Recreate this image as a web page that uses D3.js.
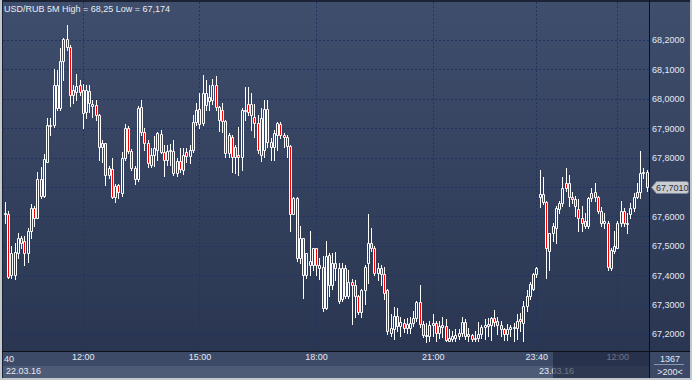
<!DOCTYPE html>
<html>
<head>
<meta charset="utf-8">
<script src="https://cdn.jsdelivr.net/npm/d3@7.9.0/dist/d3.min.js"></script>
<style>
  html, body { margin: 0; padding: 0; background: #3a4765; }
  svg { display: block; font-family: "Liberation Sans", Arial, sans-serif; }
</style>
</head>
<body>
<div id="chart"></div>
<script>
// USD/RUB 5 minute candles, 22.03.16 10:00 -> 23.03.16 12:45
const open = [67.610,67.607,67.399,67.399,67.477,67.525,67.515,67.477,67.549,67.627,
  67.596,67.726,67.668,67.784,67.907,67.910,68.047,67.968,68.128,68.203,
  68.176,68.012,68.023,68.047,68.030,67.954,68.026,67.975,67.978,67.944,
  67.835,67.849,67.764,67.760,67.665,67.706,67.678,67.798,67.900,67.821,
  67.764,67.726,67.972,67.886,67.849,67.774,67.808,67.825,67.879,67.818,
  67.791,67.821,67.821,67.746,67.787,67.757,67.818,67.804,67.825,67.920,
  67.965,67.917,67.978,68.006,67.995,68.047,67.972,67.961,67.924,67.815,
  67.869,67.835,67.808,67.801,67.958,67.982,67.982,67.937,67.917,67.808,
  67.825,67.965,67.852,67.835,67.876,67.914,67.876,67.869,67.839,67.607,
  67.661,67.457,67.525,67.399,67.433,67.433,67.491,67.426,67.429,67.290,
  67.470,67.365,67.443,67.423,67.320,67.423,67.330,67.378,67.365,67.330,
  67.276,67.351,67.443,67.511,67.494,67.409,67.423,67.405,67.348,67.204,
  67.218,67.262,67.228,67.238,67.221,67.221,67.238,67.255,67.310,67.235,
  67.194,67.194,67.232,67.238,67.204,67.225,67.228,67.177,67.184,67.187,
  67.194,67.204,67.242,67.194,67.197,67.184,67.187,67.201,67.225,67.228,
  67.232,67.255,67.245,67.232,67.218,67.201,67.218,67.221,67.221,67.252,
  67.238,67.296,67.330,67.354,67.405,67.665,67.675,67.648,67.484,67.542,
  67.562,67.624,67.644,67.712,67.712,67.665,67.658,67.624,67.596,67.586,
  67.569,67.661,67.682,67.665,67.620,67.579,67.579,67.426,67.484,67.494,
  67.579,67.620,67.576,67.607,67.627,67.665,67.682,67.746,67.750];
const high = [67.648,67.620,67.498,67.511,67.542,67.532,67.535,67.559,67.641,67.634,
  67.750,67.767,67.811,67.934,67.934,68.101,68.098,68.173,68.207,68.250,
  68.183,68.047,68.084,68.064,68.050,68.047,68.047,67.995,67.995,67.948,
  67.859,67.849,67.770,67.798,67.709,67.709,67.818,67.914,67.907,67.828,
  67.770,67.975,67.995,67.900,67.859,67.832,67.873,67.886,67.893,67.842,
  67.842,67.845,67.859,67.798,67.832,67.832,67.832,67.842,67.944,67.985,
  68.019,68.081,68.064,68.047,68.067,68.077,67.975,67.985,67.927,67.883,
  67.876,67.842,67.903,67.968,68.040,68.040,68.019,67.982,67.944,67.968,
  67.995,67.995,67.866,67.893,67.920,67.920,67.883,67.876,67.842,67.665,
  67.665,67.569,67.528,67.477,67.549,67.494,67.494,67.460,67.467,67.518,
  67.477,67.477,67.480,67.443,67.440,67.433,67.416,67.388,67.382,67.334,
  67.354,67.433,67.607,67.559,67.498,67.443,67.433,67.429,67.354,67.269,
  67.293,67.290,67.259,67.252,67.255,67.259,67.279,67.313,67.365,67.245,
  67.238,67.245,67.269,67.245,67.245,67.259,67.252,67.218,67.211,67.218,
  67.218,67.259,67.252,67.221,67.201,67.211,67.242,67.232,67.252,67.255,
  67.259,67.283,67.259,67.245,67.221,67.235,67.232,67.238,67.269,67.272,
  67.313,67.348,67.378,67.409,67.429,67.757,67.733,67.654,67.545,67.579,
  67.637,67.654,67.733,67.764,67.740,67.682,67.668,67.658,67.637,67.613,
  67.665,67.695,67.712,67.671,67.631,67.613,67.586,67.491,67.552,67.586,
  67.651,67.627,67.610,67.644,67.678,67.712,67.821,67.764,67.757];
const low = [67.579,67.392,67.392,67.388,67.460,67.491,67.436,67.446,67.525,67.566,
  67.593,67.661,67.665,67.784,67.876,67.903,67.961,67.961,68.064,68.166,
  67.975,67.985,67.995,68.012,67.900,67.934,67.954,67.937,67.927,67.791,
  67.784,67.706,67.729,67.661,67.648,67.661,67.671,67.791,67.815,67.757,
  67.709,67.719,67.876,67.825,67.767,67.767,67.770,67.791,67.815,67.736,
  67.774,67.774,67.740,67.736,67.750,67.743,67.784,67.781,67.818,67.910,
  67.900,67.910,67.961,67.961,67.982,67.961,67.890,67.886,67.801,67.801,
  67.750,67.746,67.740,67.757,67.927,67.944,67.893,67.869,67.815,67.787,
  67.801,67.835,67.791,67.791,67.825,67.866,67.835,67.801,67.552,67.607,
  67.450,67.443,67.324,67.392,67.402,67.416,67.399,67.388,67.279,67.286,
  67.330,67.354,67.382,67.307,67.313,67.324,67.324,67.235,67.259,67.269,
  67.259,67.303,67.375,67.484,67.399,67.382,67.365,67.320,67.201,67.194,
  67.184,67.211,67.194,67.208,67.204,67.204,67.228,67.245,67.225,67.191,
  67.174,67.177,67.194,67.177,67.187,67.191,67.177,67.176,67.177,67.177,
  67.184,67.194,67.184,67.177,67.177,67.177,67.177,67.187,67.184,67.194,
  67.180,67.228,67.201,67.194,67.180,67.180,67.194,67.177,67.184,67.211,
  67.177,67.279,67.320,67.348,67.395,67.631,67.641,67.392,67.416,67.518,
  67.511,67.613,67.637,67.688,67.637,67.644,67.603,67.552,67.552,67.562,
  67.559,67.654,67.654,67.613,67.569,67.559,67.416,67.416,67.477,67.491,
  67.569,67.566,67.542,67.593,67.620,67.661,67.661,67.729,67.688];
const close = [67.613,67.395,67.477,67.480,67.525,67.511,67.477,67.549,67.627,67.596,
  67.726,67.668,67.794,67.910,67.910,68.047,67.968,68.128,68.203,68.176,
  68.012,68.030,68.043,68.023,67.951,68.030,67.985,67.982,67.944,67.835,
  67.849,67.740,67.740,67.665,67.702,67.682,67.798,67.900,67.821,67.764,
  67.726,67.968,67.886,67.849,67.781,67.808,67.832,67.883,67.818,67.791,
  67.821,67.825,67.746,67.787,67.760,67.808,67.804,67.825,67.920,67.961,
  67.914,68.019,68.019,67.992,68.047,67.972,67.927,67.924,67.815,67.876,
  67.801,67.801,67.801,67.961,67.961,67.954,67.944,67.917,67.825,67.934,
  67.965,67.852,67.835,67.883,67.917,67.876,67.869,67.839,67.607,67.661,
  67.457,67.525,67.399,67.474,67.450,67.491,67.433,67.433,67.290,67.467,
  67.365,67.443,67.423,67.313,67.423,67.330,67.378,67.365,67.330,67.276,
  67.351,67.429,67.511,67.494,67.409,67.423,67.405,67.341,67.211,67.221,
  67.262,67.228,67.242,67.221,67.235,67.238,67.255,67.310,67.235,67.197,
  67.197,67.232,67.238,67.204,67.228,67.232,67.180,67.187,67.194,67.197,
  67.204,67.242,67.194,67.201,67.184,67.187,67.201,67.225,67.232,67.235,
  67.255,67.242,67.232,67.218,67.201,67.218,67.225,67.225,67.245,67.245,
  67.296,67.330,67.371,67.405,67.423,67.675,67.648,67.491,67.542,67.566,
  67.627,67.644,67.695,67.695,67.665,67.658,67.634,67.596,67.579,67.569,
  67.661,67.678,67.665,67.620,67.576,67.583,67.429,67.487,67.498,67.579,
  67.620,67.576,67.579,67.627,67.665,67.682,67.746,67.750,67.701];

// bar index of each time tick and its label
const timeTicks = [24, 60, 96, 132, 164, 189];
const timeLabels = ["12:00", "15:00", "18:00", "21:00", "23:40", "12:00"];
const dateTicks = [0, 164];
const dateLabels = ["22.03.16", "23.03.16"];
const symbol = "USD/RUB 5M";
const barCount = "1367";
const zoomLabel = ">200<";

const W = 692, H = 380;
const plotL = 3, plotR = 649, plotT = 2, plotB = 351;

const svg = d3.select("#chart").append("svg")
  .attr("width", W).attr("height", H);

const defs = svg.append("defs");
const bg = defs.append("linearGradient").attr("id", "bg")
  .attr("x1", 0).attr("y1", 0).attr("x2", 0).attr("y2", 1);
bg.append("stop").attr("offset", "0%").attr("stop-color", "#3f4e6d");
bg.append("stop").attr("offset", "100%").attr("stop-color", "#2a3651");

// panels
svg.append("rect").attr("width", W).attr("height", H).attr("fill", "#c3c7ce");
svg.append("rect").attr("x", 2).attr("y", 0).attr("width", W - 4).attr("height", H - 2)
  .attr("fill", "#1b2233");
svg.append("rect").attr("x", plotL).attr("y", plotT).attr("width", plotR - plotL).attr("height", plotB - plotT)
  .attr("fill", "url(#bg)");
svg.append("rect").attr("x", plotR + 1).attr("y", plotT).attr("width", W - 3 - plotR).attr("height", plotB - plotT)
  .attr("fill", "url(#bg)");
svg.append("rect").attr("x", plotL).attr("y", plotB + 1).attr("width", plotR - plotL).attr("height", 14)
  .attr("fill", "#3c4967");
svg.append("rect").attr("x", plotL).attr("y", plotB + 15).attr("width", plotR - plotL).attr("height", 12)
  .attr("fill", "#4d5b77");
svg.append("rect").attr("x", plotR + 1).attr("y", plotB + 1).attr("width", W - 3 - plotR).attr("height", 26)
  .attr("fill", "#3b4866");

const x = d3.scaleLinear().domain([0, open.length - 1]).range([5, 646.5]);
const y = d3.scaleLinear().domain([67.2, 68.2]).range([334, 40]);

const ru = d3.formatLocale({ decimal: ",", thousands: " ", grouping: [3], currency: ["", ""] });
const fmt4 = ru.format(".4f");
const fmtShort = v => ru.format("~f")(+v.toFixed(3));

const last = close[close.length - 1];
const ly = Math.round(y(last)) + 0.5;

// grid
const grid = svg.append("g").attr("stroke", "#1d3560").attr("stroke-dasharray", "2,2");
grid.selectAll("line.h").data(y.ticks(10)).join("line")
  .attr("x1", plotL).attr("x2", plotR)
  .attr("y1", d => Math.round(y(d)) + 0.5).attr("y2", d => Math.round(y(d)) + 0.5);
grid.selectAll("line.v").data(timeTicks).join("line")
  .attr("y1", plotT).attr("y2", plotB)
  .attr("x1", d => Math.round(x(d)) + 0.5).attr("x2", d => Math.round(x(d)) + 0.5);

// candles
const bars = d3.range(open.length).map(i => ({ i, o: open[i], h: high[i], l: low[i], c: close[i] }));
const cg = svg.append("g");
cg.selectAll("path.wick").data(bars).join("path")
  .attr("fill", "none").attr("stroke", "#ffffff")
  .attr("d", d => {
    const cx = Math.round(x(d.i)) + 0.5;
    const top = Math.round(y(Math.max(d.o, d.c)));
    const bot = Math.round(y(Math.min(d.o, d.c)));
    return `M${cx},${Math.round(y(d.h))}V${top}M${cx},${bot + 1}V${Math.round(y(d.l)) + 1}`;
  });
cg.selectAll("path.body").data(bars).join("path")
  .attr("fill", d => d.c < d.o ? "#ff0000" : "none")
  .attr("stroke", "#ffffff")
  .attr("d", d => {
    const left = Math.round(x(d.i)) - 1 + 0.5;
    const top = Math.round(y(Math.max(d.o, d.c))) + 0.5;
    const h = Math.max(1, Math.round(y(Math.min(d.o, d.c))) - Math.round(y(Math.max(d.o, d.c))));
    return `M${left},${top}h2v${h}h-2Z`;
  });

// right price axis (the label under the last-price tag is left out)
const ya = svg.append("g").attr("transform", `translate(${plotR},0)`)
  .call(d3.axisRight(y).tickValues(y.ticks(10).filter(t => Math.abs(y(t) - ly) > 8))
    .tickSize(0).tickPadding(3).tickFormat(fmt4));
ya.select(".domain").remove();
ya.selectAll("text").attr("fill", "#e3e9f3").attr("font-size", 9).attr("font-family", "Liberation Sans, Arial, sans-serif");

// bottom time axis
const xa = svg.append("g").attr("transform", `translate(0,${plotB})`)
  .call(d3.axisBottom(x).tickValues(timeTicks).tickSize(0).tickPadding(3)
    .tickFormat((d, i) => timeLabels[i]));
xa.select(".domain").remove();
xa.selectAll("text").attr("fill", "#e3e9f3").attr("font-size", 9).attr("font-family", "Liberation Sans, Arial, sans-serif");

svg.append("text").attr("x", 4).attr("y", 362).attr("fill", "#e3e9f3").attr("font-size", 9).text("40");

svg.selectAll("text.date").data(dateTicks).join("text")
  .attr("x", (d, i) => i === 0 ? 6 : Math.round(x(d)) + 3)
  .attr("y", 374)
  .attr("fill", "#e3e9f3").attr("font-size", 9)
  .text((d, i) => dateLabels[i]);

// dimmed area of the time axis (next session)
svg.append("rect").attr("x", 553).attr("y", plotB + 1).attr("width", plotR - 553).attr("height", 26)
  .attr("fill", "#1a2238").attr("opacity", 0.6);

// separators
svg.append("line").attr("x1", plotR + 0.5).attr("x2", plotR + 0.5).attr("y1", 0).attr("y2", H - 2)
  .attr("stroke", "#0b0f18");
svg.append("line").attr("x1", 2).attr("x2", W - 2).attr("y1", plotB + 0.5).attr("y2", plotB + 0.5)
  .attr("stroke", "#0b0f18");

// bottom-right info cell
svg.append("text").attr("x", 670).attr("y", 362).attr("text-anchor", "middle")
  .attr("fill", "#e3e9f3").attr("font-size", 9).text(barCount);
svg.append("line").attr("x1", 654).attr("x2", 684).attr("y1", 364.5).attr("y2", 364.5)
  .attr("stroke", "#8a96ad");
svg.append("text").attr("x", 670).attr("y", 375).attr("text-anchor", "middle")
  .attr("fill", "#e3e9f3").attr("font-size", 9).text(zoomLabel);

// last price tag
svg.append("path")
  .attr("d", `M651.5,${ly}L656.5,${ly - 6}H686.5Q688.5,${ly - 6} 688.5,${ly - 4}V${ly + 4}Q688.5,${ly + 6} 686.5,${ly + 6}H656.5Z`)
  .attr("fill", "#c9cdd4").attr("stroke", "#7d8493");
svg.append("text").attr("x", 656).attr("y", ly + 3.5)
  .attr("fill", "#2c313c").attr("font-size", 9).text(fmt4(last));

// title
svg.append("text").attr("x", 4).attr("y", 12)
  .attr("fill", "#e8edf4").attr("font-size", 9)
  .text(`${symbol} High = ${fmtShort(d3.max(high))} Low = ${fmtShort(d3.min(low))}`);
</script>
</body>
</html>
